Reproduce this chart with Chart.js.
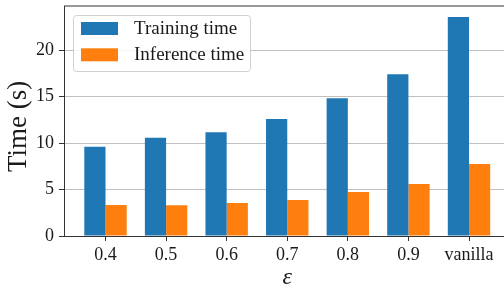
<!DOCTYPE html>
<html><head><meta charset="utf-8">
<script src="https://cdn.jsdelivr.net/npm/chart.js@4/dist/chart.umd.min.js"></script>
<style>
html,body{margin:0;padding:0;overflow:hidden;background:#fff;width:504px;height:285px}
#wrap{position:absolute;left:0;top:0;width:512px;height:290px}
</style>
</head><body><div id="wrap"><canvas id="c" width="512" height="290"></canvas></div>
<script>
const categories = ['0.4', '0.5', '0.6', '0.7', '0.8', '0.9', 'vanilla'];
const trainingTime = [9.6, 10.57, 11.18, 12.6, 14.84, 17.42, 23.58];
const inferenceTime = [3.33, 3.3, 3.55, 3.87, 4.73, 5.59, 7.74];
const seriesLabels = ['Training time', 'Inference time'];
const yTickStep = 5;

const SERIF = '"Liberation Serif", "DejaVu Serif", serif';
const TEXT = '#1a1a1a';

const toPoints = arr => arr.map((v, i) => ({x: i, y: v}));

const frameLegend = {
  id: 'frameLegend',
  afterDraw(chart) {
    const ctx = chart.ctx, ca = chart.chartArea;
    ctx.save();
    // top spine
    ctx.strokeStyle = '#333';
    ctx.lineWidth = 1;
    ctx.beginPath();
    ctx.moveTo(ca.left, ca.top);
    ctx.lineTo(ca.right, ca.top);
    ctx.stroke();
    // legend
    const lx = ca.left + 9.5, ly = ca.top + 9.5, lw = 177, lh = 56;
    ctx.beginPath();
    ctx.roundRect(lx, ly, lw, lh, 3);
    ctx.fillStyle = 'rgba(255,255,255,0.85)';
    ctx.fill();
    ctx.strokeStyle = '#d0d0d0';
    ctx.stroke();
    ctx.font = '19px ' + SERIF;
    ctx.textBaseline = 'middle';
    ctx.textAlign = 'left';
    chart.data.datasets.forEach((ds, i) => {
      const y = ly + 6.5 + i * 26.3;
      ctx.fillStyle = ds.backgroundColor;
      ctx.fillRect(lx + 7.5, y, 37, 13);
      ctx.fillStyle = TEXT;
      ctx.fillText(ds.label, lx + 60.5, y + 7);
    });
    ctx.restore();
  }
};

new Chart(document.getElementById('c'), {
  type: 'bar',
  data: {
    datasets: [
      {label: seriesLabels[0], data: toPoints(trainingTime), backgroundColor: '#1f77b4', borderWidth: 0},
      {label: seriesLabels[1], data: toPoints(inferenceTime), backgroundColor: '#ff7f0e', borderWidth: 0}
    ]
  },
  options: {
    responsive: false,
    devicePixelRatio: 1,
    animation: false,
    categoryPercentage: 0.7,
    barPercentage: 1.0,
    layout: {padding: {top: 6, right: 1.5, left: 0, bottom: 0}},
    plugins: {legend: {display: false}, tooltip: {enabled: false}},
    scales: {
      x: {
        type: 'linear',
        offset: false,
        min: -0.685,
        max: categories.length - 1 + 0.685,
        z: 1,
        grid: {offset: false, drawOnChartArea: false, drawTicks: true, tickLength: 5, tickColor: '#333'},
        border: {display: true, color: '#333', width: 1},
        ticks: {
          stepSize: 1, includeBounds: false, autoSkip: false, maxRotation: 0,
          padding: 3, color: TEXT, font: {family: SERIF, size: 18},
          callback: v => Number.isInteger(v) ? categories[v] : ''
        },
        title: {display: true, text: 'ε', color: TEXT,
          font: {family: SERIF, size: 24, style: 'italic', lineHeight: 1},
          padding: {top: 0, bottom: 0}},
        afterFit: s => { s.height = 54; s.paddingLeft = 0; s.paddingRight = 0; }
      },
      y: {
        min: 0,
        max: Math.max(...trainingTime) * 1.05,
        z: 1,
        grid: {color: 'rgba(176,176,176,0.8)', lineWidth: 1, drawTicks: true, tickLength: 5, tickColor: '#333'},
        border: {display: true, color: '#333', width: 1},
        ticks: {stepSize: yTickStep, includeBounds: false, padding: 5, color: TEXT,
          font: {family: SERIF, size: 18}},
        title: {display: true, text: 'Time (s)\u2009\u2009', color: TEXT,
          font: {family: SERIF, size: 27, lineHeight: 1},
          padding: {top: 5, bottom: 0}},
        afterFit: s => { s.width = 64; s.paddingTop = 0; s.paddingBottom = 0; }
      }
    }
  },
  plugins: [frameLegend]
});
</script>
</body></html>
